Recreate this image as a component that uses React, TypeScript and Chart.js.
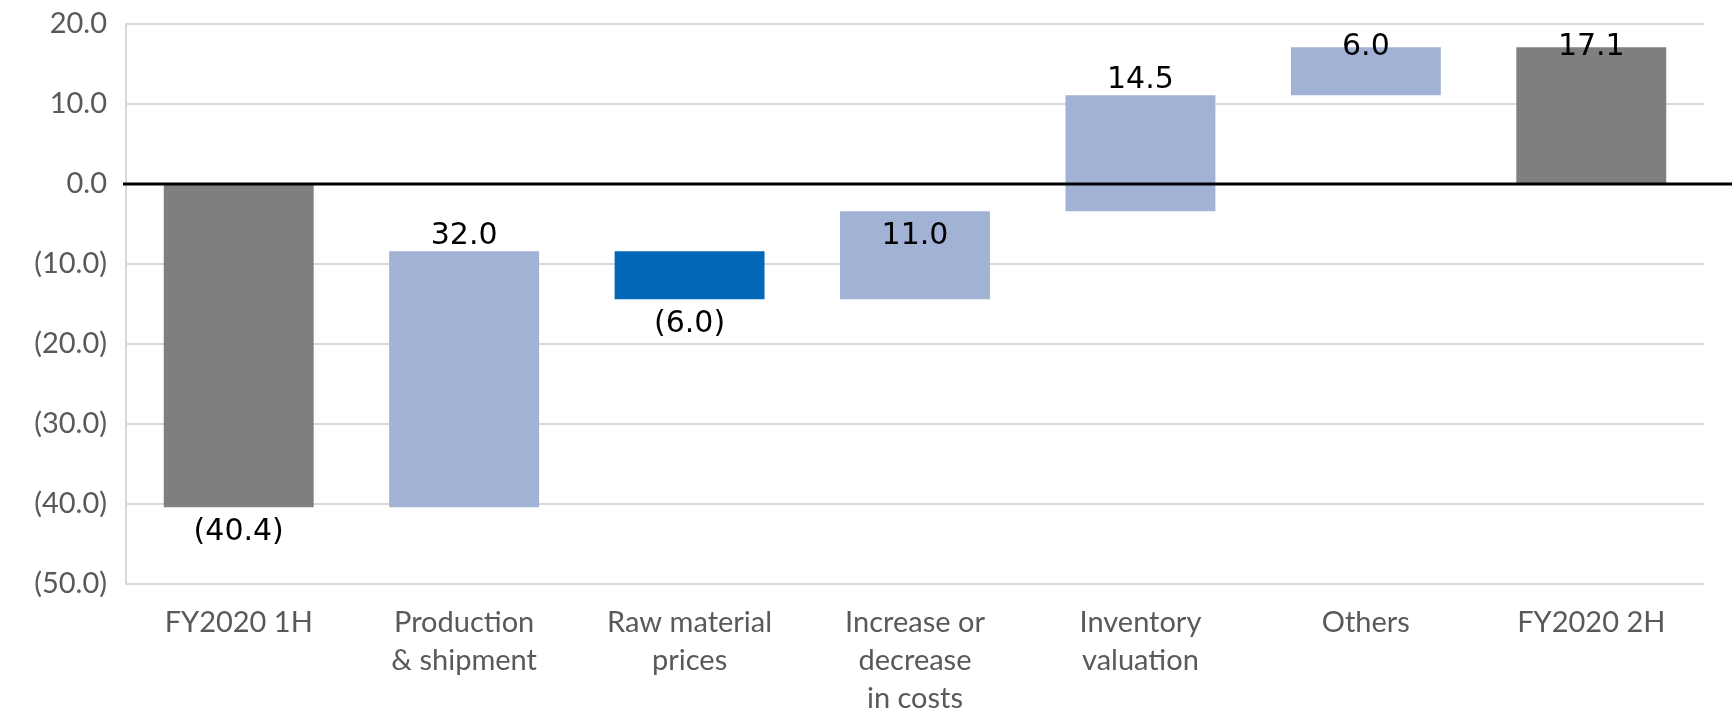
import React, { useEffect, useRef } from "react";
import { Chart, registerables } from "chart.js";

Chart.register(...registerables);

const categories: string[][] = [
  ["FY2020 1H"],
  ["Production", "& shipment"],
  ["Raw material", "prices"],
  ["Increase or", "decrease", "in costs"],
  ["Inventory", "valuation"],
  ["Others"],
  ["FY2020 2H"],
];
const changes = [-40.4, 32.0, -6.0, 11.0, 14.5, 6.0, 17.1];
const isTotal = [true, false, false, false, false, false, true];
const barColors = ["#7f7f7f", "#a2b2d5", "#0068b7", "#a2b2d5", "#a2b2d5", "#a2b2d5", "#7f7f7f"];
const labelPlacement = ["below", "above", "below", "insideTop", "above", "atTop", "atTop"];
const yMin = -50;
const yMax = 20;
const yStep = 10;

const fmt = (v: number) => (v < 0 ? `(${Math.abs(v).toFixed(1)})` : v.toFixed(1));

function buildRanges(): [number, number][] {
  let running = 0;
  return changes.map((c, i) => {
    if (isTotal[i]) {
      running = c;
      return [0, c] as [number, number];
    }
    const start = running;
    running = Math.round((running + c) * 10) / 10;
    return [start, running] as [number, number];
  });
}

const zeroLinePlugin = {
  id: "zeroLine",
  afterDatasetsDraw(chart: any) {
    const { ctx, chartArea, scales } = chart;
    const y0 = Math.round(scales.y.getPixelForValue(0));
    ctx.save();
    ctx.strokeStyle = "#000000";
    ctx.lineWidth = 3;
    ctx.beginPath();
    ctx.moveTo(chartArea.left - 3, y0);
    ctx.lineTo(chart.width, y0);
    ctx.stroke();
    ctx.restore();
  },
};

const valueLabelPlugin = {
  id: "valueLabels",
  afterDatasetsDraw(chart: any) {
    const { ctx } = chart;
    const meta = chart.getDatasetMeta(0);
    ctx.save();
    ctx.font = '30px "DejaVu Sans"';
    ctx.fillStyle = "#000000";
    ctx.textAlign = "center";
    ctx.textBaseline = "alphabetic";
    meta.data.forEach((el: any, i: number) => {
      const top = Math.min(el.y, el.base);
      const bottom = Math.max(el.y, el.base);
      let baseline = top - 7;
      const p = labelPlacement[i];
      if (p === "below") baseline = bottom + 33;
      else if (p === "insideTop") baseline = top + 33;
      else if (p === "atTop") baseline = top + 8;
      ctx.fillText(fmt(changes[i]), el.x, baseline);
    });
    ctx.restore();
  },
};

export default function App() {
  const canvasRef = useRef<HTMLCanvasElement | null>(null);

  useEffect(() => {
    document.body.style.margin = "0";
    const canvas = canvasRef.current;
    if (!canvas) return;
    const chart = new Chart(canvas, {
      type: "bar",
      data: {
        labels: categories,
        datasets: [
          {
            data: buildRanges() as any,
            backgroundColor: barColors,
            borderWidth: 0,
            categoryPercentage: 1,
            barPercentage: 0.665,
          },
        ],
      },
      options: {
        animation: false,
        responsive: true,
        maintainAspectRatio: false,
        layout: { padding: { top: 24, right: 28, left: 0, bottom: 0 } },
        plugins: {
          legend: { display: false },
          tooltip: { enabled: false },
        },
        scales: {
          x: {
            grid: { display: false, drawTicks: false },
            border: { display: false },
            ticks: {
              color: "#595959",
              font: { family: "Lato", size: 29, lineHeight: 1.31 },
              padding: 20,
              maxRotation: 0,
              autoSkip: false,
            },
            afterFit(scale: any) {
              scale.height = 130;
              scale.paddingLeft = 0;
              scale.paddingRight = 0;
            },
          },
          y: {
            min: yMin,
            max: yMax,
            grid: {
              color: (c: any) => (c.tick && c.tick.value === 0 ? "rgba(0,0,0,0)" : "#d9d9d9"),
              lineWidth: 2,
              drawTicks: false,
            },
            border: { display: true, color: "#d9d9d9", width: 2 },
            ticks: {
              stepSize: yStep,
              color: "#595959",
              font: { family: "Lato", size: 29 },
              padding: 19,
              callback: (v: any) => fmt(Number(v)),
            },
            afterFit(scale: any) {
              scale.width = 126;
              scale.paddingTop = 0;
              scale.paddingBottom = 0;
            },
          },
        },
      },
      plugins: [zeroLinePlugin, valueLabelPlugin],
    });
    return () => chart.destroy();
  }, []);

  return (
    <div style={{ position: "relative", width: 1732, height: 714 }}>
      <canvas ref={canvasRef} />
    </div>
  );
}
